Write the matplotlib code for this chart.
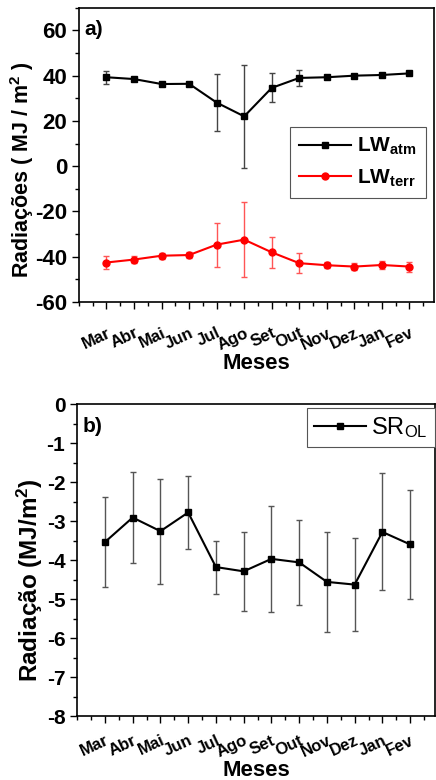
import numpy as np
import matplotlib.pyplot as plt
from matplotlib.ticker import MultipleLocator
from matplotlib.lines import Line2D

plt.rcParams['font.family'] = ['Liberation Sans', 'DejaVu Sans']
plt.rcParams['font.weight'] = 'bold'
plt.rcParams['mathtext.default'] = 'regular'
plt.rcParams['axes.unicode_minus'] = False

# Dados
meses = ['Mar', 'Abr', 'Mai', 'Jun', 'Jul', 'Ago', 'Set', 'Out', 'Nov', 'Dez', 'Jan', 'Fev']

lw_atm = [39.3, 38.5, 36.3, 36.4, 28.1, 22.0, 34.6, 39.0, 39.3, 40.0, 40.3, 41.0]
lw_atm_err = [2.9, 1.0, 1.0, 1.0, 12.5, 22.7, 6.4, 3.6, 0.9, 0.9, 0.9, 0.7]

lw_terr = [-42.6, -41.3, -39.6, -39.3, -34.7, -32.5, -38.1, -42.9, -43.8, -44.4, -43.7, -44.4]
lw_terr_err = [3.0, 1.4, 1.3, 1.4, 9.7, 16.7, 6.8, 4.4, 1.4, 1.4, 1.7, 2.2]

sr_ol = [-3.54, -2.91, -3.26, -2.78, -4.18, -4.29, -3.97, -4.06, -4.56, -4.63, -3.28, -3.60]
sr_ol_err = [1.16, 1.16, 1.35, 0.94, 0.68, 1.01, 1.35, 1.08, 1.28, 1.20, 1.50, 1.40]

x = np.arange(1, len(meses) + 1)

fig = plt.figure(figsize=(4.36, 7.8), dpi=100)
ax1 = fig.add_axes([0.181, 0.613, 0.815, 0.377])
ax2 = fig.add_axes([0.177, 0.082, 0.821, 0.400])


def estilo(ax, pad, labelpad):
    ax.set_xticks(x)
    ax.set_xticklabels(meses, rotation=25, ha='right', va='top', rotation_mode='anchor',
                       fontsize=12, fontweight='bold')
    ax.xaxis.set_minor_locator(MultipleLocator(0.5))
    ax.tick_params(axis='both', which='major', direction='out', length=5, width=1)
    ax.tick_params(axis='both', which='minor', direction='out', length=3, width=1)
    ax.tick_params(axis='x', which='major', pad=pad)
    ax.set_xlim(0, 12.9)
    for s in ax.spines.values():
        s.set_linewidth(1.2)
    ax.set_xlabel('Meses', fontsize=16, fontweight='bold', labelpad=labelpad)


# a) LW
ax1.errorbar(x, lw_atm, yerr=lw_atm_err, color='black', marker='s', markersize=5,
             lw=1.5, ecolor='#444444', elinewidth=1, capsize=2.5)
ax1.errorbar(x, lw_terr, yerr=lw_terr_err, color='red', marker='o', markersize=5,
             lw=1.5, ecolor='#ff5555', elinewidth=1, capsize=2.5)
ax1.set_ylim(-60, 70)
ax1.set_yticks([-60, -40, -20, 0, 20, 40, 60])
ax1.yaxis.set_minor_locator(MultipleLocator(10))
for lab in ax1.get_yticklabels():
    lab.set_fontsize(16)
    lab.set_fontweight('bold')
estilo(ax1, 12, 0)
ax1.set_ylabel('Radiações ( MJ / m$^2$ )', fontsize=15.5, fontweight='bold')
ax1.yaxis.set_label_coords(-0.12, 0.45)
ax1.text(0.015, 0.96, 'a)', transform=ax1.transAxes, fontsize=15, fontweight='bold', va='top')
h1 = [Line2D([], [], color='black', marker='s', markersize=4.5, lw=1.5),
      Line2D([], [], color='red', marker='o', markersize=5, lw=1.5)]
leg1 = ax1.legend(h1, ['LW$_{atm}$', 'LW$_{terr}$'], loc='upper left',
                  bbox_to_anchor=(0.594, 0.596), fontsize=15, fancybox=False,
                  edgecolor='#555555', handlelength=2.5, borderpad=0.45, labelspacing=0.5,
                  handletextpad=0.25, borderaxespad=0, framealpha=1)
leg1.get_frame().set_linewidth(0.8)

# b) SR
ax2.errorbar(x, sr_ol, yerr=sr_ol_err, color='black', marker='s', markersize=4,
             lw=1.5, ecolor='#555555', elinewidth=1, capsize=2.5)
ax2.set_ylim(-8, 0)
ax2.set_yticks(np.arange(-8, 1, 1))
ax2.set_yticklabels([str(v) for v in range(-8, 1)], fontsize=15, fontweight='bold')
ax2.yaxis.set_minor_locator(MultipleLocator(0.5))
estilo(ax2, 7, 0)
ax2.set_ylabel('Radiação (MJ/m$^2$)', fontsize=17.5, fontweight='bold')
ax2.yaxis.set_label_coords(-0.09, 0.436)
ax2.text(0.015, 0.96, 'b)', transform=ax2.transAxes, fontsize=15, fontweight='bold', va='top')
h2 = [Line2D([], [], color='black', marker='s', markersize=4, lw=1.5)]
leg2 = ax2.legend(h2, ['SR$_{OL}$'], loc='upper right', bbox_to_anchor=(1.0, 0.986),
                  fancybox=False, edgecolor='#555555', handlelength=2.2, borderpad=0.3,
                  handletextpad=0.25, borderaxespad=0, framealpha=1,
                  prop={'weight': 'normal', 'size': 17})
leg2.get_frame().set_linewidth(0.8)

fig.savefig('out.png', dpi=100)
